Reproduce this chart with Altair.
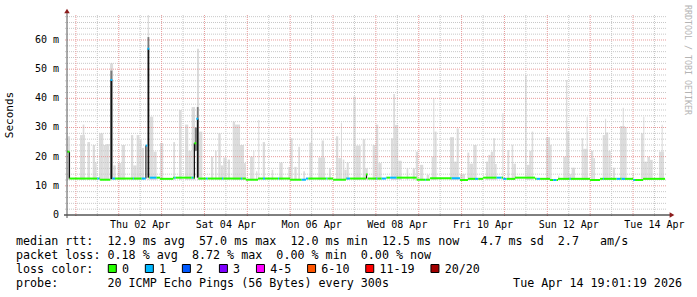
import altair as alt
import pandas as pd

MONO = "DejaVu Sans Mono"
W, H = 600, 200
X_MAX = 336.0        # hours shown: Tue Mar 31 19:01:19 -> Tue Apr 14 19:01:19 2026
Y_MAX = 68.57        # ms at top of plot
MIDNIGHT = 4.978     # hours from graph start to Wed Apr 01 00:00

# ---------------- data ----------------
# smoke: spread of the 20 pings per interval (start hour, end hour, max rtt in ms)
smoke_t0 = [0.4, 7.3, 8.8, 11.4, 14.4, 15.7, 17.9, 20.3, 21.8, 24.1, 25.9, 28.4, 30.6, 35.8, 37.1, 39.0,
            40.5, 41.8, 45.2, 46.5, 48.3, 52.1, 59.5, 62.7, 66.1, 67.9, 69.8, 72.8, 73.9, 80.6, 82.9,
            84.7, 86.1, 87.5, 90.0,
            92.8, 94.1, 96.9, 99.1, 102.5, 104.3, 105.8, 107.1, 109.6, 114.6, 118.9, 123.9, 124.9,
            127.3, 129.5, 132.3, 135.7, 136.6, 140.7, 142.6, 146.7, 150.6, 151.9, 153.4, 154.4, 155.3,
            156.6, 160.3, 161.7, 165.6, 167.0, 171.2, 172.9, 174.3, 181.4, 182.7, 183.7, 185.5, 190.2,
            193.6, 195.3, 197.7, 201.4, 204.2, 205.1, 205.7, 214.5, 216.7, 218.2, 220.1, 224.2, 225.3,
            227.5,
            234.6, 235.9, 237.3, 238.7, 239.7, 243.8, 246.6, 249.0, 249.9, 256.5, 257.4, 258.9, 260.2,
            268.2, 270.5, 275.1, 277.9, 279.4, 279.8, 281.3, 282.6, 288.2, 289.1, 291.0, 293.4, 294.7,
            300.0, 301.3, 301.8, 303.1, 305.6, 309.7, 311.2, 312.5, 316.8, 321.4, 322.7, 322.7, 325.0,
            326.5, 331.5, 333.0]
smoke_t1 = [1.7, 10.1, 9.7, 12.9, 15.7, 16.6, 20.3, 21.8, 23.7, 25.8, 27.3, 30.6, 32.5, 37.1, 39.0, 40.5,
            41.8, 43.1, 45.9, 48.3, 50.2, 53.9, 60.5, 64.2, 67.9, 69.8, 71.7, 73.9, 75.8, 81.9, 83.8,
            86.1, 87.5, 89.4, 91.3,
            94.1, 96.9, 99.1, 100.2, 104.3, 104.9, 106.6, 107.7, 110.9, 115.5, 120.8, 124.9, 126.4,
            128.6, 130.5, 133.3, 137.4, 137.4, 144.5, 143.9, 147.8, 151.9, 153.4, 154.0, 155.3, 156.6,
            157.8, 161.7, 164.5, 167.0, 168.4, 172.9, 174.3, 176.2, 182.7, 183.7, 185.5, 187.4, 191.1,
            194.9, 196.7, 199.5, 202.9, 206.1, 205.7, 207.0, 216.7, 219.1, 219.4, 222.9, 225.3, 227.5,
            229.4,
            235.9, 237.3, 238.7, 239.7, 240.6, 244.4, 247.7, 249.9, 251.4, 257.4, 259.3, 260.2, 261.1,
            270.5, 271.4, 275.7, 279.4, 280.2, 281.3, 282.6, 284.5, 289.1, 291.6, 291.6, 294.7, 295.7,
            301.8, 301.9, 303.1, 304.5, 306.9, 312.5, 311.8, 313.4, 317.4, 322.7, 323.3, 325.0, 326.5,
            328.0, 334.3, 333.6]
smoke_top = [27, 27.4, 31, 25, 24, 18, 28, 24, 24.3, 52, 17, 17.8, 24, 27.4, 17, 27.4,
             25.7, 23, 68.6, 33.7, 21.7, 24.7, 25, 36, 31, 22, 37, 57, 28.6, 20, 22,
             28, 17, 19.7, 19,
             32, 31, 24, 17.8, 20, 22, 15, 32.6, 25, 15.5, 18, 16.5, 26.3,
             16.5, 23.4, 15, 24.8, 29.7, 19.7, 25.5, 16, 27, 19.5, 31.6, 19, 15.5,
             18, 40.6, 23.8, 26, 16, 24, 31, 17.8, 26.3, 41.5, 30.9, 18.6, 16,
             16, 21.7, 17.2, 13.8, 20, 40, 28.6, 26.7, 18.3, 29.7, 14, 21.4, 17.6,
             24,
             18.3, 20.6, 21.7, 26.3, 17.5, 34.9, 22.3, 24.1, 17.6, 48, 17.2, 22, 28.6,
             26.7, 24.1, 13.5, 20, 46.3, 28.6, 14, 16.2, 26.3, 22.7, 33.7, 22, 19.5,
             27.4, 33, 28.3, 22, 16.2, 30.5, 36.8, 30.2, 14.5, 28, 33.7, 18.3, 20,
             18.9, 21.7, 30.9]
SMOKE_LOW = 12.0

# median rtt, step by step (start hour, end hour, ms)
med_t0 = [0.0, 1.4, 18.5, 24.3, 25.4, 44.1, 45.0, 46.1, 52.1, 59.4, 71.3, 72.4, 73.5, 100.2, 107.0,
          124.9, 133.8, 149.0, 156.2, 167.4, 168.4, 178.6, 195.8, 203.3, 220.1, 224.6, 233.0, 244.2,
          250.9, 262.1, 270.5, 275.0, 292.9, 298.5, 317.0, 322.6]
med_t1 = [1.4, 18.5, 24.3, 25.4, 44.1, 45.0, 46.1, 52.1, 59.4, 71.3, 72.4, 73.5, 100.2, 107.0, 124.9,
          133.8, 149.0, 156.2, 167.4, 168.4, 178.6, 195.8, 203.3, 220.1, 224.6, 233.0, 244.2, 250.9,
          262.1, 270.5, 275.0, 292.9, 298.5, 317.0, 322.6, 334.9]
med_ms = [21.7, 12.5, 12.1, 46.3, 12.5, 23.8, 57.0, 12.8, 12.4, 12.8, 24.6, 33.0, 12.5, 12.1, 12.5,
          12.1, 12.5, 12.1, 12.5, 13.9, 12.5, 12.8, 12.1, 12.6, 12.0, 12.4, 12.8, 12.4,
          12.8, 12.4, 12.0, 12.4, 12.0, 12.4, 12.0, 12.4]

# intervals with packet loss (start hour, end hour, loss class)
loss_t0 = [17.0, 24.3, 25.4, 37.0, 41.8, 44.1, 46.5, 60.1, 69.8, 72.4, 77.8, 86.8, 97.4, 109.8, 118.2,
           131.4, 145.2, 156.6, 173.2, 176.2, 180.9, 200.5, 215.4, 228.5, 240.6, 244.3, 263.0, 272.3,
           281.5, 300.2, 307.8, 310.6, 317.1]
loss_t1 = [18.1, 25.4, 26.9, 37.5, 44.1, 46.1, 50.2, 60.9, 70.7, 73.5, 78.8, 87.5, 98.2, 110.9, 118.7,
           135.1, 145.8, 158.5, 173.8, 179.0, 184.6, 201.0, 220.1, 230.3, 243.4, 246.2, 264.9, 274.2,
           282.1, 300.7, 309.7, 312.5, 318.1]
loss_cls = ["1"] * len(loss_t0)

# dense (dark) smoke where all pings sat high
dense_t0 = [0.95, 24.3, 43.9, 45.1, 71.0, 72.7, 167.4]
dense_t1 = [1.7, 25.4, 44.5, 46.1, 71.7, 73.7, 168.0]
dense_lo = [12.5, 12.3, 12.5, 12.8, 12.5, 12.8, 12.5]
dense_hi = [21.7, 46.3, 23.8, 57.0, 24.6, 33.0, 13.9]
halo_t0 = [24.3, 45.1, 71.6, 72.7]
halo_t1 = [25.4, 46.1, 72.7, 73.7]
halo_lo = [46.3, 57.0, 22.0, 33.0]
halo_hi = [49.5, 61.0, 30.0, 37.0]

# legend / labels
loss_labels = ["0", "1", "2", "3", "4-5", "6-10", "11-19", "20/20"]
loss_colors = ["#26ff00", "#00b8ff", "#0059ff", "#7e00ff", "#ff00ff", "#ff5500", "#ff0000", "#a10000"]
day_labels = ["Thu 02 Apr", "Sat 04 Apr", "Mon 06 Apr", "Wed 08 Apr", "Fri 10 Apr", "Sun 12 Apr", "Tue 14 Apr"]
y_ticks = [0, 10, 20, 30, 40, 50, 60]
y_tick_text = ["0", "10 m", "20 m", "30 m", "40 m", "50 m", "60 m"]

line1 = "median rtt:  12.9 ms avg  57.0 ms max  12.0 ms min  12.5 ms now   4.7 ms sd  2.7   am/s"
line2 = "packet loss: 0.18 % avg  8.72 % max  0.00 % min  0.00 % now"
line3 = "loss color:"
line4 = "probe:       20 ICMP Echo Pings (56 Bytes) every 300s"
stamp = "Tue Apr 14 19:01:19 2026"

# ---------------- frames ----------------
nb = lambda s: s.replace(" ", "\u00a0")

smoke = pd.DataFrame({"t0": smoke_t0, "t1": smoke_t1, "top": smoke_top, "low": SMOKE_LOW})

rows = []
for a, b, v in zip(med_t0, med_t1, med_ms):
    cuts = sorted({a, b} | {t for l0, l1 in zip(loss_t0, loss_t1) for t in (l0, l1) if a < t < b})
    for c0, c1 in zip(cuts[:-1], cuts[1:]):
        m = (c0 + c1) / 2
        cat = next((c for l0, l1, c in zip(loss_t0, loss_t1, loss_cls) if l0 <= m < l1), "0")
        rows.append({"t0": c0, "t1": c1, "ms": v, "cat": cat})
median = pd.DataFrame(rows)

dense = pd.DataFrame({"t0": dense_t0, "t1": dense_t1, "lo": dense_lo, "hi": dense_hi})
halo = pd.DataFrame({"t0": halo_t0, "t1": halo_t1, "lo": halo_lo, "hi": halo_hi})

vgrid = [MIDNIGHT + 12 * k for k in range(29) if MIDNIGHT + 12 * k <= X_MAX]
vminor = pd.DataFrame({"t": [t for i, t in enumerate(vgrid) if i % 2 == 1]})
vmajor = pd.DataFrame({"t": [t for i, t in enumerate(vgrid) if i % 2 == 0]})
hminor = pd.DataFrame({"v": [v for v in range(2, 69, 2) if v % 10 != 0]})
hmajor = pd.DataFrame({"v": [v for v in range(10, 69, 10)]})

xlab = pd.DataFrame({"t": [MIDNIGHT + 36 + 48 * k for k in range(len(day_labels))], "s": day_labels})
ylab = pd.DataFrame({"v": y_ticks, "s": y_tick_text})

CH = 7.04
bx, pos = [], 108.3 - 67
for lab in loss_labels:
    bx.append(pos)
    pos += CH * len(lab) + 30
legend = pd.DataFrame({"cat": loss_labels, "bx": bx,
                       "bx2": [b + 8 for b in bx], "tx": [b + 13.7 for b in bx]})

# ---------------- scales ----------------
xs = alt.Scale(domain=[0, X_MAX], nice=False, zero=False)
ys = alt.Scale(domain=[0, Y_MAX], nice=False, zero=False)
cs = alt.Scale(domain=loss_labels, range=loss_colors)


def X(f):
    return alt.X(f, scale=xs, axis=None)


def Y(f):
    return alt.Y(f, scale=ys, axis=None)


one = pd.DataFrame({"a": [0]})

layers = [
    alt.Chart(smoke).mark_rect(color="#dcdcdc").encode(x=X("t0:Q"), x2="t1:Q", y=Y("low:Q"), y2="top:Q"),
    alt.Chart(hminor).mark_rule(color="#c8c8c8", strokeDash=[1, 1], strokeWidth=1).encode(
        y=Y("v:Q"), x=alt.value(-2), x2=alt.value(W)),
    alt.Chart(vminor).mark_rule(color="#c8c8c8", strokeDash=[1, 1], strokeWidth=1).encode(
        x=X("t:Q"), y=alt.value(0), y2=alt.value(H + 2)),
    alt.Chart(hmajor).mark_rule(color="#e89a9a", strokeDash=[1, 1], strokeWidth=1).encode(
        y=Y("v:Q"), x=alt.value(-2), x2=alt.value(W)),
    alt.Chart(vmajor).mark_rule(color="#e89a9a", strokeDash=[1, 1], strokeWidth=1).encode(
        x=X("t:Q"), y=alt.value(0), y2=alt.value(H + 2)),
    alt.Chart(halo).mark_rect(color="#7a7a7a").encode(x=X("t0:Q"), x2="t1:Q", y=Y("lo:Q"), y2="hi:Q"),
    alt.Chart(dense).mark_rect(color="#111111").encode(x=X("t0:Q"), x2="t1:Q", y=Y("lo:Q"), y2="hi:Q"),
    alt.Chart(median).mark_rule(strokeWidth=2).encode(
        x=X("t0:Q"), x2="t1:Q", y=Y("ms:Q"), color=alt.Color("cat:N", scale=cs, legend=None)),
    # axes
    alt.Chart(one).mark_rule(color="#000000", strokeWidth=1).encode(
        x=alt.value(-3), x2=alt.value(W + 3), y=alt.value(H)),
    alt.Chart(one).mark_rule(color="#555555", strokeWidth=1).encode(
        x=alt.value(0), y=alt.value(H + 3), y2=alt.value(-3)),
    alt.Chart(one).mark_point(shape="triangle-up", filled=True, size=30, color="#8c1c1c", opacity=1).encode(
        x=alt.value(0), y=alt.value(-4)),
    alt.Chart(one).mark_point(shape="triangle-right", filled=True, size=30, color="#8c1c1c", opacity=1).encode(
        x=alt.value(W + 5), y=alt.value(H)),
    # tick labels
    alt.Chart(xlab).mark_text(font=MONO, fontSize=10, color="#000000", baseline="middle").encode(
        x=X("t:Q"), y=alt.value(H + 10), text="s:N"),
    alt.Chart(ylab).mark_text(font=MONO, fontSize=10, color="#000000", align="right", baseline="middle").encode(
        y=Y("v:Q"), x=alt.value(-8), text="s:N"),
    alt.Chart(one).mark_text(text="Seconds", font=MONO, fontSize=11, angle=270, color="#000000",
                             baseline="middle").encode(x=alt.value(-57), y=alt.value(100)),
    alt.Chart(one).mark_text(text="RRDTOOL / TOBI OETIKER", font=MONO, fontSize=8.3, angle=90,
                             color="#b4b4b4", baseline="middle").encode(x=alt.value(619.7), y=alt.value(45)),
]

for i, s in enumerate([line1, line2, line3, line4]):
    layers.append(alt.Chart(one).mark_text(text=nb(s), font=MONO, fontSize=11.7, align="left",
                                           baseline="middle", color="#000000").encode(
        x=alt.value(-51), y=alt.value(226 + 14 * i)))
layers.append(alt.Chart(one).mark_text(text=stamp, font=MONO, fontSize=11.7, align="right",
                                       baseline="middle", color="#000000").encode(
    x=alt.value(615), y=alt.value(268)))
layers.append(alt.Chart(legend).mark_rect(stroke="#000000", strokeWidth=1).encode(
    x=alt.X("bx:Q", scale=None), x2="bx2:Q", y=alt.value(249.5), y2=alt.value(257.5),
    fill=alt.Color("cat:N", scale=cs, legend=None)))
layers.append(alt.Chart(legend).mark_text(font=MONO, fontSize=11.7, align="left", baseline="middle",
                                          color="#000000").encode(
    x=alt.X("tx:Q", scale=None), y=alt.value(254), text="cat:N"))

chart = alt.layer(*layers).properties(
    width=W, height=H, autosize="none",
    padding={"left": 67, "top": 15, "right": 30, "bottom": 82},
    background="#ffffff",
).configure_view(stroke=None)

chart.save("out.html", embed_options={"renderer": "svg", "actions": False})
